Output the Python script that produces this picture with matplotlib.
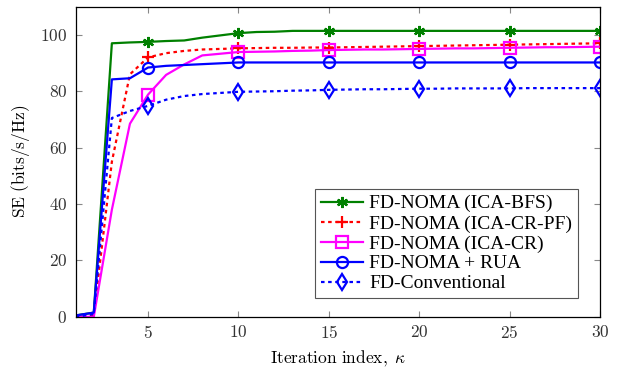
import numpy as np
import matplotlib
matplotlib.use('Agg')
import matplotlib.pyplot as plt
import matplotlib.ticker as mtick

plt.rcParams['font.family'] = ['Liberation Serif', 'DejaVu Serif']
plt.rcParams['mathtext.fontset'] = 'cm'

# Datos
iteraciones = np.arange(1, 31)

se_bfs = [0.5, 1.5, 97.0, 97.3, 97.5, 97.8, 98.0, 99.0, 99.8, 100.6,
          101.0, 101.1, 101.4, 101.4, 101.4, 101.4, 101.4, 101.4, 101.4, 101.4,
          101.4, 101.4, 101.4, 101.4, 101.4, 101.4, 101.4, 101.4, 101.4, 101.4]
se_cr_pf = [0.0, 0.5, 55.0, 86.0, 92.0, 93.5, 94.3, 94.8, 95.0, 95.2,
            95.3, 95.4, 95.4, 95.5, 95.5, 95.6, 95.7, 95.8, 95.9, 96.0,
            96.1, 96.2, 96.3, 96.4, 96.5, 96.6, 96.7, 96.8, 96.9, 97.0]
se_cr = [0.0, 0.0, 38.0, 68.5, 78.8, 85.8, 89.5, 92.7, 93.3, 93.9,
         94.0, 94.1, 94.3, 94.4, 94.6, 94.7, 94.8, 94.8, 94.9, 95.0,
         95.1, 95.2, 95.2, 95.3, 95.4, 95.5, 95.6, 95.6, 95.7, 95.8]
se_rua = [0.5, 1.5, 84.2, 84.6, 88.4, 89.0, 89.3, 89.6, 89.9, 90.2,
          90.2, 90.2, 90.2, 90.2, 90.2, 90.2, 90.2, 90.2, 90.2, 90.2,
          90.2, 90.2, 90.2, 90.2, 90.2, 90.2, 90.2, 90.2, 90.2, 90.2]
se_conv = [0.0, 1.0, 70.5, 73.0, 74.8, 77.0, 78.3, 79.0, 79.4, 79.8,
           79.9, 80.0, 80.2, 80.3, 80.5, 80.6, 80.7, 80.7, 80.8, 80.9,
           80.9, 81.0, 81.0, 81.0, 81.0, 81.1, 81.1, 81.1, 81.1, 81.1]

etiquetas = ['FD-NOMA (ICA-BFS)', 'FD-NOMA (ICA-CR-PF)', 'FD-NOMA (ICA-CR)',
             'FD-NOMA + RUA', 'FD-Conventional']

fig = plt.figure(figsize=(6.18, 3.68), dpi=100)
ax = fig.add_axes([0.1225, 0.139, 0.8485, 0.843])

marca = dict(markevery=list(range(4, 30, 5)), markersize=8, markeredgewidth=1.6,
             markerfacecolor='none', linewidth=1.6)

ax.plot(iteraciones, se_bfs, color='#008000', marker=(6, 2, 0), label=etiquetas[0], **marca)
ax.plot(iteraciones, se_cr_pf, color='#ff0000', marker='+', linestyle=(0, (1.6, 1.6)),
        label=etiquetas[1], **marca)
ax.plot(iteraciones, se_cr, color='#ff00ff', marker='s', label=etiquetas[2], **marca)
ax.plot(iteraciones, se_rua, color='#0000ff', marker='o', label=etiquetas[3], **marca)
ax.plot(iteraciones, se_conv, color='#0000ff', marker='d', linestyle=(0, (1.6, 1.6)),
        label=etiquetas[4], **marca)

ax.set_xlim(1, 30)
ax.set_ylim(0, 110)
ax.set_xticks([5, 10, 15, 20, 25, 30])
ax.set_yticks([0, 20, 40, 60, 80, 100])
ax.xaxis.set_major_formatter(mtick.FuncFormatter(lambda v, p: r'$%d$' % v))
ax.yaxis.set_major_formatter(mtick.FuncFormatter(lambda v, p: r'$%d$' % v))
ax.tick_params(direction='in', top=True, right=True, length=4, width=0.8,
               color='#888888', labelcolor='#333333', labelsize=12.5, pad=6)
for s in ax.spines.values():
    s.set_linewidth(0.9)

ax.set_xlabel(r'$\mathrm{Iteration\ index,}\ \kappa$', fontsize=12.5, labelpad=5)
ax.set_ylabel(r'$\mathrm{SE\ (bits/s/Hz)}$', fontsize=12.5, labelpad=6)

leg = ax.legend(loc='lower right', bbox_to_anchor=(0.958, 0.06), borderaxespad=0,
                fontsize=14, fancybox=False, edgecolor='#555555', framealpha=1,
                handlelength=2.2, handletextpad=0.3, labelspacing=0.12,
                borderpad=0.3)
leg.get_frame().set_linewidth(0.8)

fig.savefig('out.png', dpi=100)
